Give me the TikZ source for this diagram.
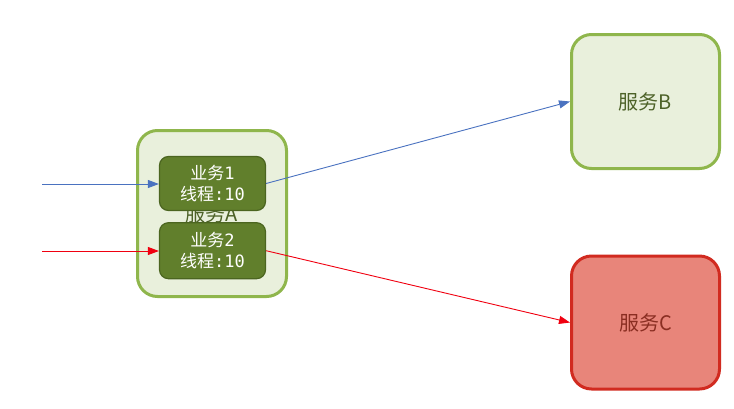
\documentclass[tikz,border=0pt]{standalone}
\usepackage{fontspec}
\newfontfamily\cjk{Noto Sans CJK SC}
\newfontfamily\mono{DejaVu Sans Mono}
\usetikzlibrary{arrows.meta,positioning}
\definecolor{svcfill}{HTML}{E9F0DC}
\definecolor{svcline}{HTML}{8FB64C}
\definecolor{svctext}{HTML}{4D6228}
\definecolor{badfill}{HTML}{E8857A}
\definecolor{badline}{HTML}{D12B20}
\definecolor{badtext}{HTML}{8A2E22}
\definecolor{taskfill}{HTML}{617F2C}
\definecolor{taskline}{HTML}{4B6520}
\definecolor{okblue}{HTML}{4A72C0}
\definecolor{errred}{HTML}{F00010}

\begin{document}
\begin{tikzpicture}[x=1pt,y=-1pt,
                    svc/.style={rectangle,rounded corners=20pt,line width=3pt,draw=svcline,fill=svcfill,
                                text=svctext,font=\cjk\fontsize{20}{23}\selectfont},
                    badsvc/.style={svc,draw=badline,fill=badfill,text=badtext},
                    task/.style={rectangle,rounded corners=9pt,draw=taskline,line width=1.2pt,fill=taskfill,
                                 text=white,align=center,minimum width=106pt,inner sep=0pt,
                                 font=\fontsize{17}{21}\selectfont},
                    every path/.style={-{Triangle[length=11pt,width=8pt]},line width=0.9pt}]
\useasboundingbox (0,0) rectangle (734,408);

\node[svc,minimum width=149pt,minimum height=166pt] (a) at (212,213.5) {服务A};
\node[svc,minimum width=148pt,minimum height=134pt] (b) at (645.5,101.5) {服务B};
\node[badsvc,minimum width=148pt,minimum height=133pt] (c) at (645.5,322.5) {服务C};

\node[task,minimum height=54pt] (t1) at (212.5,183.5) {{\cjk 业务}{\mono 1}\\{\cjk 线程}{\mono :10}};
\node[task,minimum height=56pt,below=11pt of t1] (t2) {{\cjk 业务}{\mono 2}\\{\cjk 线程}{\mono :10}};

\coordinate (in1) at (42,184);
\coordinate (in2) at (42,251);

\draw[okblue] (in1) -- (in1 -| t1.west);
\draw[okblue] (t1.east) -- (b.west);
\draw[errred] (in2) -- (in2 -| t2.west);
\draw[errred] (t2.east) -- (c.west);

\end{tikzpicture}
\end{document}
